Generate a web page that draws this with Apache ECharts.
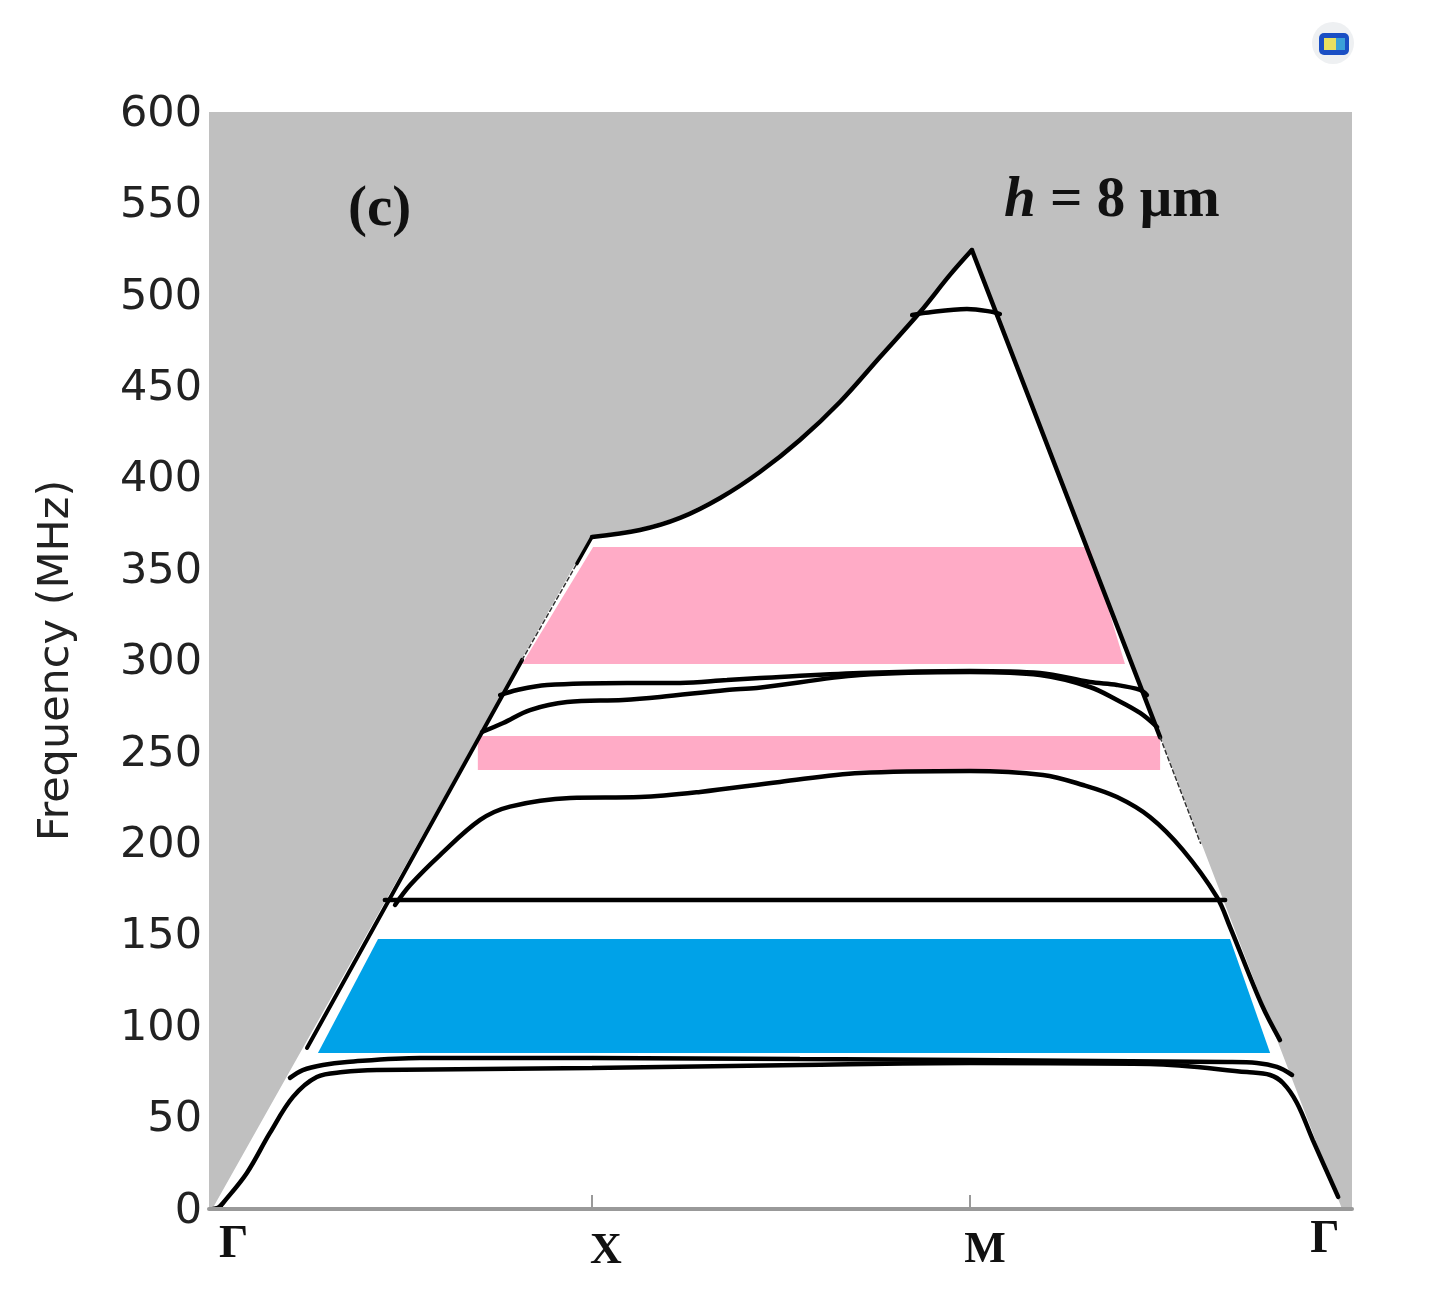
<!DOCTYPE html>
<html>
<head>
<meta charset="utf-8">
<style>html,body{margin:0;padding:0;background:#fff}#c{width:1451px;height:1315px}</style>
<script src="https://cdn.jsdelivr.net/npm/echarts@6/dist/echarts.min.js"></script>
</head>
<body>
<div id="c"></div>
<script>
// x = reduced wave-vector path position (Gamma=0, X=1, M=2, Gamma=3), y = frequency in MHz
const xTickLabels = ['Γ', 'X', 'M', 'Γ'];
const xLabelAt = [0.052, 1.037, 2.04, 2.939];
const xTicksAt = [1, 2];
const yName = 'Frequency (MHz)';

const soundLine = [[0,0],[1,367.6],[1.127,371.4],[1.233,378],[1.339,388.9],[1.444,403.1],[1.55,420.6],[1.656,441.4],[1.762,466],[1.868,490.6],[1.947,510.9],[2.005,524.5],[2.98,0]];
const lineFoot = [[-0.01,0],[0.02,1.5]];
const lineLeftSolid = [[0.246,88.1],[0.815,300.3]];
const lineLeftDotted = [[0.815,300.3],[0.96,353]];
const lineLeftTop = [[0.96,353],[1,367.6]];
const lineUpperXM = [[1,367.6],[1.127,371.4],[1.233,378],[1.339,388.9],[1.444,403.1],[1.55,420.6],[1.656,441.4],[1.762,466],[1.868,490.6],[1.947,510.9],[2.005,524.5]];
const lineRightSolid = [[2.005,524.5],[2.503,258]];
const lineRightDotted = [[2.503,258],[2.61,200]];
const band1 = [[0.011,0.5],[0.024,3.3],[0.087,19.7],[0.148,41.6],[0.209,61.3],[0.272,72.2],[0.341,74.9],[0.431,76],[1,77.1],[1.55,78.8],[2,79.9],[2.476,79.3],[2.733,74.9],[2.794,73.3],[2.828,68.9],[2.865,58],[2.907,37.7],[2.974,6.6]];
const band2 = [[0.201,71.7],[0.235,76],[0.288,78.8],[0.352,80.4],[0.545,82.6],[1,82.6],[1.55,82],[2,81.5],[2.68,80.4],[2.759,79.9],[2.812,77.7],[2.852,73.3]];
const band3 = [[0.452,169],[2.675,169]];
const band4 = [[0.479,166.3],[0.519,177.2],[0.598,193.6],[0.704,212.8],[0.783,220.1],[0.942,224.8],[1.127,225.3],[1.286,228.1],[1.497,233.6],[1.709,238.5],[2,239.6],[2.193,237.4],[2.299,231.9],[2.389,225.3],[2.476,214.4],[2.563,196.4],[2.653,170.7],[2.688,154.2],[2.772,111.6],[2.82,92.4]];
const band5 = [[0.709,260.9],[0.765,265.8],[0.836,272.9],[0.934,277.3],[1.082,278.4],[1.18,280],[1.357,283.9],[1.436,285],[1.709,292],[2,293.7],[2.185,292],[2.317,285.5],[2.389,278.4],[2.45,271.3],[2.495,263.6]];
const band6 = [[0.757,281.1],[0.802,283.9],[0.881,286.6],[1.093,287.7],[1.233,287.7],[1.357,289.3],[1.444,290.4],[1.709,293.2],[2,294.3],[2.185,293.2],[2.317,288.2],[2.389,286.6],[2.45,283.9],[2.468,281.1]];
const band7 = [[1.847,489],[1.876,490],[1.992,492.3],[2.061,490.6],[2.079,489.5]];

const gapPinkUpper = [[1.003,362.1],[2.317,362.1],[2.41,298.1],[0.815,298.1]];
const gapPinkLower = [[0.698,258.7],[2.503,258.7],[2.503,240.1],[0.698,240.1]];
const gapBlue = [[0.434,147.7],[2.688,147.7],[2.794,85.3],[0.275,85.3]];

function polygonSeries(pts, fill) {
  return {
    type: 'custom', coordinateSystem: 'cartesian2d', z: 3, silent: true, clip: false,
    data: pts,
    encode: { x: 0, y: 1 },
    renderItem: function (params, api) {
      if (params.dataIndex !== 0) return;
      return { type: 'polygon', shape: { points: pts.map(p => api.coord(p)) }, style: { fill: fill } };
    }
  };
}
function curve(pts, width, smooth, dashed) {
  return {
    type: 'line', data: pts, showSymbol: false, symbol: 'none', z: 5, silent: true,
    smooth: smooth ? 0.35 : false, clip: false,
    lineStyle: { color: dashed ? '#333' : '#000', width: width, type: dashed ? [4, 3] : 'solid', cap: 'round' }
  };
}

const chart = echarts.init(document.getElementById('c'), null, { renderer: 'canvas' });
chart.setOption({
  animation: false,
  backgroundColor: '#fff',
  grid: { left: 209, right: 99, top: 112, bottom: 106, show: true, backgroundColor: '#C0C0C0', borderWidth: 0 },
  xAxis: {
    type: 'value', min: -0.0132, max: 3.0106, z: 10,
    splitLine: { show: false },
    axisLine: { show: true, onZero: true, lineStyle: { color: '#999', width: 4 } },
    axisTick: { show: true, inside: true, length: 14, customValues: xTicksAt, lineStyle: { color: '#999', width: 2 } },
    axisLabel: {
      show: true, customValues: xLabelAt, margin: 8, verticalAlign: 'top',
      formatter: function (v) {
        const i = xLabelAt.indexOf(v);
        return '{s' + i + '|' + xTickLabels[i] + '}';
      },
      rich: {
        s0: { fontFamily: 'Liberation Serif', fontWeight: 'bold', fontSize: 46, color: '#111', padding: [5, 0, 0, 0] },
        s1: { fontFamily: 'Liberation Serif', fontWeight: 'bold', fontSize: 44, color: '#111', padding: [13, 0, 0, 0] },
        s2: { fontFamily: 'Liberation Serif', fontWeight: 'bold', fontSize: 44, color: '#111', padding: [12, 0, 0, 0] },
        s3: { fontFamily: 'Liberation Serif', fontWeight: 'bold', fontSize: 46, color: '#111', padding: [0, 0, 0, 0] }
      }
    }
  },
  yAxis: {
    type: 'value', min: 0, max: 600, interval: 50,
    name: yName, nameLocation: 'middle', nameGap: 131, nameRotate: 90,
    nameTextStyle: { fontFamily: 'DejaVu Sans', fontSize: 43, color: '#222' },
    splitLine: { show: false }, axisTick: { show: false }, axisLine: { show: false },
    axisLabel: {
      margin: 7,
      formatter: function (v) { return '{n|' + v + '}'; },
      rich: { n: { fontFamily: 'DejaVu Sans', fontSize: 43, color: '#222', padding: [5, 0, 0, 0] } }
    }
  },
  graphic: [
    { type: 'text', left: 348, top: 182, z: 20, style: { text: '(c)', font: 'bold 57px "Liberation Serif"', fill: '#111' } },
    { type: 'text', left: 1004, top: 173, z: 20, style: {
        text: '{i|h} = 8 µm', font: 'bold 57px "Liberation Serif"', fill: '#111',
        rich: { i: { fontFamily: 'Liberation Serif', fontWeight: 'bold', fontStyle: 'italic', fontSize: 57, fill: '#111', color: '#111' } }
    } },
    { type: 'circle', z: 20, shape: { cx: 1333, cy: 43, r: 21 }, style: { fill: '#eef0f2' } },
    { type: 'rect', z: 21, shape: { x: 1319, y: 33, width: 30, height: 22, r: 5 }, style: { fill: '#1a4fc4' } },
    { type: 'rect', z: 22, shape: { x: 1324, y: 38, width: 12, height: 12 }, style: { fill: '#e8e060' } },
    { type: 'rect', z: 22, shape: { x: 1336, y: 38, width: 9, height: 12 }, style: { fill: '#3aa0d8' } }
  ],
  series: [
    {
      type: 'line', data: soundLine, showSymbol: false, symbol: 'none', z: 2, silent: true,
      lineStyle: { color: '#fff', width: 3 }, areaStyle: { color: '#fff', opacity: 1, origin: 'start' }
    },
    polygonSeries(gapPinkUpper, '#FFABC6'),
    polygonSeries(gapPinkLower, '#FFABC6'),
    polygonSeries(gapBlue, '#00A2E8'),
    curve(lineFoot, 3, false),
    curve(lineLeftSolid, 4, false),
    curve(lineLeftDotted, 1.5, false, true),
    curve(lineLeftTop, 3.5, false),
    curve(lineUpperXM, 4.5, true),
    curve(lineRightSolid, 4.5, false),
    curve(lineRightDotted, 1.5, false, true),
    curve(band1, 4.5, true),
    curve(band2, 4.5, true),
    curve(band3, 4.5, false),
    curve(band4, 4.5, true),
    curve(band5, 4.5, true),
    curve(band6, 4.5, true),
    curve(band7, 4.5, true)
  ]
});
</script>
</body>
</html>
